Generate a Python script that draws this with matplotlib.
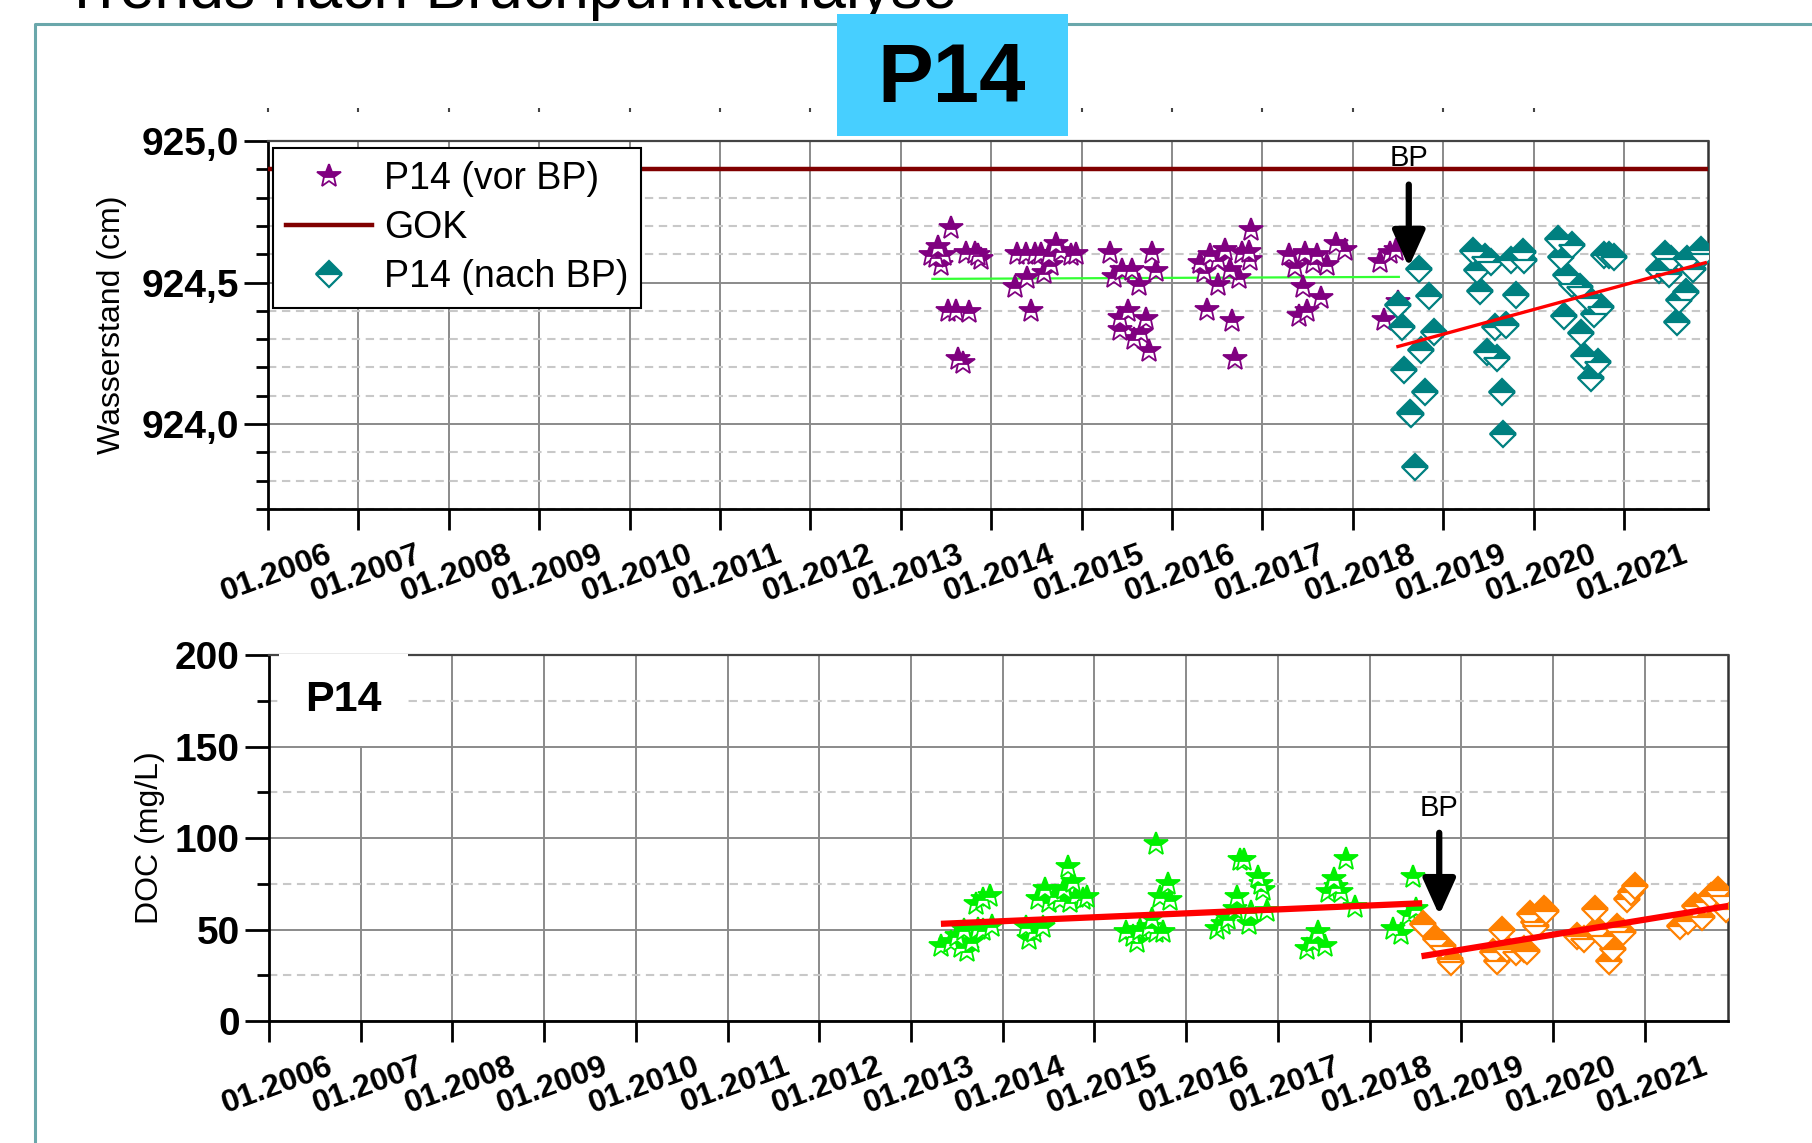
import matplotlib
matplotlib.use('Agg')
import matplotlib.pyplot as plt
from matplotlib import font_manager
from matplotlib.lines import Line2D
from matplotlib.patches import Rectangle
from matplotlib.ticker import FixedLocator, MultipleLocator, FuncFormatter
from matplotlib.transforms import ScaledTranslation

names = {f.name for f in font_manager.fontManager.ttflist}
NARROW = 'Liberation Sans Narrow' if 'Liberation Sans Narrow' in names else 'Liberation Sans'
plt.rcParams['font.family'] = ['Liberation Sans', 'DejaVu Sans']

# ---------------------------------------------------------------- data
years = list(range(2006, 2022))
year_labels = ['01.%d' % y for y in years]

# Wasserstand P14 vor Bruchpunkt (decimal year, cm)
wl_vor_t = [2013.56, 2013.34, 2013.41, 2013.48, 2013.45, 2013.39, 2013.72, 2013.82,
            2013.89, 2013.85, 2013.52, 2013.61, 2013.76, 2013.63, 2013.69,
            2014.29, 2014.39, 2014.48, 2014.55, 2014.64, 2014.72, 2014.77, 2014.88,
            2014.94, 2014.66, 2014.59, 2014.40, 2014.26, 2014.44,
            2015.32, 2015.36, 2015.45, 2015.56, 2015.64, 2015.78, 2015.82, 2015.51,
            2015.42, 2015.42, 2015.71, 2015.66, 2015.58, 2015.75,
            2016.88, 2016.31, 2016.35, 2016.42, 2016.51, 2016.59, 2016.51, 2016.74,
            2016.77, 2016.85, 2016.86, 2016.64, 2016.39, 2016.66, 2016.70,
            2017.30, 2017.36, 2017.47, 2017.56, 2017.60, 2017.71, 2017.82, 2017.91,
            2017.45, 2017.65, 2017.40, 2017.49,
            2018.30, 2018.41, 2018.48, 2018.35, 2018.50]
wl_vor_v = [924.693, 924.597, 924.626, 924.597, 924.562, 924.590, 924.603, 924.603,
            924.585, 924.597, 924.400, 924.400, 924.396, 924.229, 924.217,
            924.600, 924.600, 924.600, 924.600, 924.597, 924.638, 924.610, 924.597,
            924.600, 924.562, 924.533, 924.515, 924.486, 924.398,
            924.603, 924.520, 924.545, 924.545, 924.490, 924.603, 924.540, 924.398,
            924.375, 924.334, 924.370, 924.322, 924.300, 924.258,
            924.685, 924.568, 924.539, 924.597, 924.580, 924.615, 924.490, 924.515,
            924.603, 924.609, 924.580, 924.545, 924.404, 924.363, 924.229,
            924.597, 924.556, 924.603, 924.568, 924.597, 924.562, 924.638, 924.615,
            924.486, 924.445, 924.381, 924.398,
            924.574, 924.603, 924.615, 924.369, 924.430]

# Wasserstand P14 nach Bruchpunkt
wl_nach_t = [2018.73, 2018.84, 2018.50, 2018.55, 2018.90, 2018.76, 2018.57, 2018.80,
             2018.63, 2018.65, 2018.69,
             2019.33, 2019.37, 2019.46, 2019.53, 2019.75, 2019.88, 2019.90, 2019.81,
             2019.41, 2019.57, 2019.70, 2019.49, 2019.60, 2019.65, 2019.66,
             2020.27, 2020.43, 2020.30, 2020.36, 2020.43, 2020.51, 2020.60, 2020.75,
             2020.67, 2020.34, 2020.52, 2020.56, 2020.71, 2020.64, 2020.78, 2020.84,
             2020.89,
             2021.45, 2021.52, 2021.39, 2021.50, 2021.70, 2021.76, 2021.85, 2021.87,
             2021.69, 2021.61, 2021.59]
wl_nach_v = [924.549, 924.452, 924.420, 924.344, 924.327, 924.262, 924.192, 924.112,
             924.040, 924.035, 923.847,
             924.611, 924.546, 924.590, 924.573, 924.578, 924.608, 924.578, 924.456,
             924.470, 924.344, 924.350, 924.256, 924.233, 924.114, 923.964,
             924.655, 924.631, 924.590, 924.526, 924.496, 924.485, 924.444, 924.415,
             924.390, 924.382, 924.323, 924.239, 924.221, 924.163, 924.596, 924.596,
             924.592,
             924.602, 924.584, 924.543, 924.532, 924.584, 924.549, 924.614, 924.600,
             924.467, 924.438, 924.362]

gok = 924.90
wl_trend_vor_t = [2013.35, 2018.51]
wl_trend_vor_v = [924.513, 924.520]
wl_trend_nach_t = [2018.50, 2021.90]
wl_trend_nach_v = [924.274, 924.570]
wl_bp_t = 2018.62
wl_bp_v = [924.856, 924.545, 924.94]   # arrow tail, arrow tip, label

# DOC P14 (mg/L)
doc_vor_t = [2013.33, 2013.44, 2013.54, 2013.61, 2013.67, 2013.50, 2013.58, 2013.73,
             2013.79, 2013.88, 2013.71, 2013.86, 2013.79,
             2014.25, 2014.29, 2014.34, 2014.44, 2014.38, 2014.46, 2014.50, 2014.57,
             2014.63, 2014.67, 2014.71, 2014.77, 2014.80, 2014.88, 2014.92, 2014.73,
             2015.34, 2015.42, 2015.46, 2015.50, 2015.59, 2015.67, 2015.75, 2015.67,
             2015.80, 2015.71, 2015.82, 2015.63,
             2016.34, 2016.40, 2016.46, 2016.53, 2016.55, 2016.59, 2016.63, 2016.69,
             2016.71, 2016.78, 2016.84, 2016.82, 2016.88,
             2017.32, 2017.38, 2017.44, 2017.51, 2017.55, 2017.61, 2017.63, 2017.69,
             2017.74, 2017.84,
             2018.26, 2018.34, 2018.43, 2018.47, 2018.51]
doc_vor_v = [41.2, 43.0, 40.3, 38.5, 43.0, 46.7, 49.5, 50.4,
             49.5, 52.2, 64.0, 68.6, 66.8,
             51.3, 44.9, 48.5, 51.3, 66.8, 72.3, 65.0, 68.6,
             65.9, 72.3, 84.2, 76.0, 67.7, 66.8, 67.7, 65.0,
             48.5, 46.7, 43.0, 49.5, 51.3, 48.5, 48.5, 97.0,
             75.0, 67.7, 65.9, 55.9,
             50.4, 53.1, 55.9, 61.3, 67.7, 87.8, 87.8, 53.1,
             59.5, 78.7, 71.4, 75.0, 60.4,
             39.4, 43.0, 48.5, 41.2, 70.5, 77.8, 73.2, 70.5,
             88.8, 62.2,
             50.4, 47.6, 57.7, 78.7, 61.3]

doc_nach_t = [2018.58, 2018.73, 2018.80, 2018.88, 2018.89,
              2019.35, 2019.39, 2019.44, 2019.50, 2019.60, 2019.68, 2019.72, 2019.75,
              2019.79, 2019.82, 2019.90, 2019.92,
              2020.26, 2020.34, 2020.46, 2020.48, 2020.55, 2020.65, 2020.61, 2020.70,
              2020.76, 2020.81, 2020.85, 2020.90,
              2021.39, 2021.47, 2021.55, 2021.62, 2021.67, 2021.72, 2021.80, 2021.85,
              2021.89]
doc_nach_v = [53.1, 44.9, 41.2, 33.9, 32.0,
              37.6, 33.0, 49.5, 39.4, 37.6, 39.4, 38.5, 58.6,
              54.0, 52.2, 61.3, 60.4,
              46.7, 44.9, 61.3, 50.4, 46.7, 39.4, 33.0, 51.3,
              48.5, 66.8, 70.4, 74.0,
              52.2, 54.9, 63.1, 56.8, 65.0, 68.6, 71.4, 68.6,
              61.3]

doc_trend_vor_t = [2013.36, 2018.54]
doc_trend_vor_v = [53.2, 64.3]
doc_trend_nach_t = [2018.60, 2021.90]
doc_trend_nach_v = [35.7, 62.8]
doc_bp_t = 2018.76
doc_bp_v = [104.4, 56.3, 116.4]

# ---------------------------------------------------------------- figure
fig = plt.figure(figsize=(18.12, 11.43), dpi=100)
fig.patch.set_facecolor('white')

# slide frame and cut-off slide title
fig.add_artist(Line2D([35 / 1812, 35 / 1812, 1.0], [0.0, 1 - 24 / 1143, 1 - 24 / 1143],
                      transform=fig.transFigure, color='#6aa7ab', lw=2.2))
fig.text(0.035, 1 - 8 / 1143, 'Trends nach Bruchpunktanalyse', fontsize=45,
         va='baseline', ha='left', color='black')
fig.add_artist(Rectangle((837 / 1812, 1 - 136 / 1143), 231 / 1812, 122 / 1143,
                         transform=fig.transFigure, facecolor='#47cfff',
                         edgecolor='none', zorder=5))
fig.text(952 / 1812, 1 - 80 / 1143, 'P14', fontsize=60, fontweight='bold',
         ha='center', va='center', zorder=6)


def style_axes(ax, xmax):
    ax.set_xlim(2006.0, xmax)
    ax.xaxis.set_major_locator(FixedLocator(years))
    ax.set_xticklabels(year_labels, rotation=20, ha='center', va='top',
                       fontsize=23, fontweight='bold', family=NARROW)
    ax.tick_params(axis='x', which='major', direction='out', length=15, width=2,
                   pad=7)
    ax.tick_params(axis='y', which='major', direction='out', length=17, width=2,
                   pad=4, labelsize=28)
    ax.tick_params(axis='y', which='minor', direction='out', length=9, width=2)
    for lab in ax.get_yticklabels():
        lab.set_fontweight('bold')
        lab.set_family(NARROW)
    ax.grid(which='major', axis='both', color='#8a8a8a', lw=1.4, ls='-', zorder=0)
    ax.grid(which='minor', axis='y', color='#c8c8c8', lw=1.5, ls=(0, (4, 2.7)),
            zorder=0)
    ax.set_axisbelow(True)
    ax.spines['left'].set_linewidth(2)
    ax.spines['bottom'].set_linewidth(2)
    ax.spines['top'].set_color('#444444')
    ax.spines['right'].set_color('#333333')
    ax.spines['top'].set_linewidth(1.6)
    ax.spines['right'].set_linewidth(1.8)
    # rotated labels sit slightly right of their tick
    shift = ScaledTranslation(0.08, 0, fig.dpi_scale_trans)
    for lab in ax.get_xticklabels():
        lab.set_transform(lab.get_transform() + shift)


# ---------------------------------------------------------------- Wasserstand
ax1 = fig.add_axes([0.1479, 0.5547, 0.7947, 0.3219])
ax1.set_ylim(923.70, 925.0)
ax1.yaxis.set_major_locator(FixedLocator([924.0, 924.5, 925.0]))
ax1.yaxis.set_minor_locator(MultipleLocator(0.1))
ax1.yaxis.set_major_formatter(FuncFormatter(lambda v, p: ('%.1f' % v).replace('.', ',')))
style_axes(ax1, 2021.93)
ax1.set_ylabel('Wasserstand (cm)', fontsize=23)
ax1.yaxis.set_label_coords(-0.098, 0.5)

ax1.axhline(gok, color='#800000', lw=3.2, zorder=3)
ax1.plot(wl_trend_vor_t, wl_trend_vor_v, color='#33ff33', lw=1.6, zorder=3)
ax1.plot(wl_vor_t, wl_vor_v, ls='none', marker='*', ms=18, color='#800080',
         fillstyle='top', markerfacecoloralt='white', mew=1.3, zorder=4)
ax1.plot(wl_nach_t, wl_nach_v, ls='none', marker='D', ms=13, color='#008080',
         fillstyle='top', markerfacecoloralt='white', mew=1.6, zorder=4)
ax1.plot(wl_trend_nach_t, wl_trend_nach_v, color='#ff0000', lw=2.4, zorder=5)
ax1.annotate('', xy=(wl_bp_t, wl_bp_v[1]), xytext=(wl_bp_t, wl_bp_v[0]),
             arrowprops=dict(arrowstyle='-|>,head_width=0.45,head_length=1.0',
                             lw=4.5, color='black', mutation_scale=22), zorder=6)
ax1.text(wl_bp_t, wl_bp_v[2], 'BP', fontsize=21, ha='center', va='center', zorder=6)

# small marks above the panel
top = ax1.secondary_xaxis('top')
top.set_xticks(years[:-1])
top.set_xticklabels([])
top.spines['top'].set_visible(False)
top.spines['top'].set_position(('outward', 21))
top.tick_params(length=3, width=1.5, color='#444444')

handles = [
    Line2D([], [], ls='none', marker='*', ms=18, color='#800080', fillstyle='top',
           markerfacecoloralt='white', mew=1.3),
    Line2D([], [], color='#800000', lw=3.2),
    Line2D([], [], ls='none', marker='D', ms=13, color='#008080', fillstyle='top',
           markerfacecoloralt='white', mew=1.6),
]
leg = ax1.legend(handles, ['P14 (vor BP)', 'GOK', 'P14 (nach BP)'], loc='upper left',
                 bbox_to_anchor=(0.0035, 0.981), borderaxespad=0, fontsize=27,
                 frameon=True, fancybox=False, edgecolor='black', framealpha=1,
                 handlelength=2.3, handletextpad=0.3, borderpad=0.35,
                 labelspacing=0.34)
leg.get_frame().set_linewidth(1.5)
leg.set_zorder(10)

# ---------------------------------------------------------------- DOC
ax2 = fig.add_axes([0.1485, 0.1067, 0.8052, 0.3202])
ax2.set_ylim(0, 200)
ax2.yaxis.set_major_locator(MultipleLocator(50))
ax2.yaxis.set_minor_locator(MultipleLocator(25))
style_axes(ax2, 2021.91)
ax2.set_ylabel('DOC (mg/L)', fontsize=23)
ax2.yaxis.set_label_coords(-0.071, 0.5)

ax2.plot(doc_vor_t, doc_vor_v, ls='none', marker='*', ms=18, color='#00f000',
         fillstyle='top', markerfacecoloralt='white', mew=1.3, zorder=4)
ax2.plot(doc_nach_t, doc_nach_v, ls='none', marker='D', ms=13, color='#ff8000',
         fillstyle='top', markerfacecoloralt='white', mew=1.6, zorder=4)
ax2.plot(doc_trend_vor_t, doc_trend_vor_v, color='#ff0000', lw=4.5, zorder=5)
ax2.plot(doc_trend_nach_t, doc_trend_nach_v, color='#ff0000', lw=4.5, zorder=5)
ax2.annotate('', xy=(doc_bp_t, doc_bp_v[1]), xytext=(doc_bp_t, doc_bp_v[0]),
             arrowprops=dict(arrowstyle='-|>,head_width=0.45,head_length=1.0',
                             lw=4.5, color='black', mutation_scale=22), zorder=6)
ax2.text(doc_bp_t, doc_bp_v[2], 'BP', fontsize=21, ha='center', va='center', zorder=6)
ax2.text(0.051, 0.878, 'P14', transform=ax2.transAxes, fontsize=31,
         fontweight='bold', ha='center', va='center', zorder=6,
         bbox=dict(boxstyle='square,pad=0.6', fc='white', ec='none'))

fig.savefig('out.png', dpi=100)
